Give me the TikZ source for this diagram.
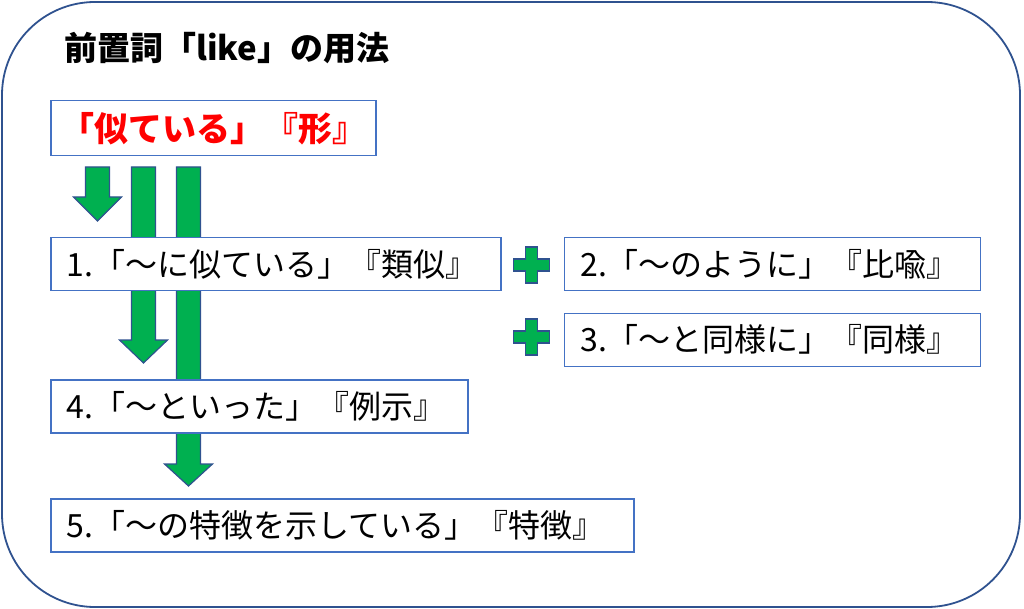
\documentclass[tikz,border=0pt]{standalone}
\usepackage{fontspec}
\setmainfont{Noto Sans CJK JP}
\usetikzlibrary{positioning}

\definecolor{boxblue}{HTML}{4472C4}
\definecolor{edgeblue}{HTML}{2F528F}
\definecolor{arrgreen}{HTML}{00B050}

\tikzset{
    usebox/.style={draw=boxblue,line width=1.5pt,fill=white,anchor=north west,
        minimum height=53pt,inner xsep=16pt,inner ysep=0pt,align=left,
        text width=#1,font=\fontsize{32}{36}\selectfont},
    greenshape/.style={fill=arrgreen,draw=edgeblue,line width=1.2pt,line join=miter}
}

% block arrow: centre x, top, start of head, tip
\newcommand\blockarr[4]{%
    \draw[greenshape] (#1-12,#2) -- (#1+12,#2) -- (#1+12,#3) -- (#1+24,#3)
        -- (#1,#4) -- (#1-24,#3) -- (#1-12,#3) -- cycle;}
% plus sign: centre x, centre y
\newcommand\plussign[2]{%
    \draw[greenshape] (#1-6,#2-18) -- (#1+6,#2-18) -- (#1+6,#2-6) -- (#1+18,#2-6)
        -- (#1+18,#2+6) -- (#1+6,#2+6) -- (#1+6,#2+18) -- (#1-6,#2+18)
        -- (#1-6,#2+6) -- (#1-18,#2+6) -- (#1-18,#2-6) -- (#1-6,#2-6) -- cycle;}

\begin{document}
\begin{tikzpicture}[x=1pt,y=-1pt]
    \useasboundingbox (0,0) rectangle (1024,609);
    %% Frame
    \draw[edgeblue,line width=1.8pt,rounded corners=93pt] (2,2) rectangle (1020,607);
    \node[anchor=west,inner sep=0pt,font=\fontsize{33}{36}\selectfont\bfseries] (title) at (64,48) {前置詞「like」の用法};
    %% Arrows (behind the boxes)
    \blockarr{97.5}{167}{197}{221}
    \blockarr{143.5}{167}{340}{363}
    \blockarr{188.5}{167}{464}{486}
    %% Core meaning
    \node[draw=boxblue,line width=1.5pt,fill=white,anchor=north west,minimum width=325pt,minimum height=55pt,
        text=red,font=\fontsize{34}{36}\selectfont\bfseries] (base) at (50,100) {「似ている」『形』};
    %% Uses
    \node[usebox=418pt] (use1) at (50,237) {1.「～に似ている」『類似』};
    \node[usebox=384pt,right=62pt of use1.north east,anchor=north west] (use2) {2.「～のように」『比喩』};
    \node[usebox=384pt,below=21pt of use2.south west,anchor=north west] (use3) {3.「～と同様に」『同様』};
    \node[usebox=385pt] (use4) at (50,379) {4.「～といった」『例示』};
    \node[usebox=551pt] (use5) at (50,498) {5.「～の特徴を示している」『特徴』};
    %% Plus signs
    \plussign{531.5}{265}
    \plussign{531.5}{337}
\end{tikzpicture}
\end{document}
